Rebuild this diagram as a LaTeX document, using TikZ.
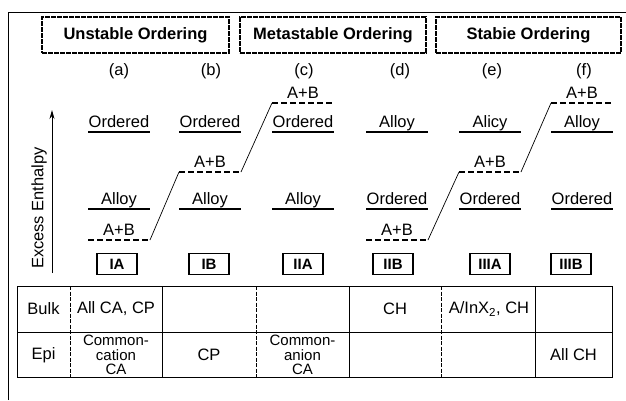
\documentclass[tikz,border=0pt]{standalone}
\usepackage{fontspec}
\setmainfont{Liberation Sans}
\usetikzlibrary{arrows.meta}
% level: #1 name, #2 x centre, #3 y of line, #4 text, #5 line style
\newcommand{\lev}[5]{%
  \coordinate (#1l) at ({#2-31},#3);
  \coordinate (#1r) at ({#2+31},#3);
  \draw[#5] (#1l) -- (#1r);
  \node[lvltext] (#1t) at (#2,{#3-5}) {#4};}
\begin{document}
\begin{tikzpicture}[x=1pt,y=-1pt,
  hdr/.style={draw, line width=1.4pt, dash pattern=on 5pt off 1pt, minimum height=36pt, inner sep=0pt, font=\fontsize{16.5}{18}\selectfont\bfseries},
  lbl/.style={font=\fontsize{16.5}{18}\selectfont, inner sep=0pt},
  lvltext/.style={font=\fontsize{16.5}{18}\selectfont, inner sep=0pt, anchor=base},
  solidlvl/.style={line width=1.6pt},
  dashlvl/.style={line width=1.6pt, dash pattern=on 6pt off 3pt},
  slant/.style={line width=0.7pt},
  phase/.style={draw, line width=1.7pt, minimum width=40pt, minimum height=21pt, inner sep=0pt, font=\fontsize{15}{16}\selectfont\bfseries},
  cell/.style={font=\fontsize{16.5}{18}\selectfont, inner sep=0pt, align=center},
  cellsm/.style={font=\fontsize{15}{14.2}\selectfont, inner sep=0pt, align=center},
  tline/.style={line width=0.9pt},
  tdash/.style={line width=0.9pt, dash pattern=on 4pt off 1.5pt},
]
\useasboundingbox (0,0) rectangle (626,400);
% frame
\coordinate (f0) at (8,400);
\coordinate (f1) at (8,12);
\coordinate (f2) at (626,12);
\draw[line width=0.8pt] (f0) -- (f1) -- (f2);
% headers
\node[hdr, minimum width=187pt] (h1) at (135.5,35) {Unstable Ordering};
\node[hdr, minimum width=186pt] (h2) at (333,35) {Metastable Ordering};
\node[hdr, minimum width=185pt] (h3) at (528.5,35) {Stabie Ordering};
% column labels
\node[lbl] (la) at (119,71) {(a)};
\node[lbl] (lb) at (211,71) {(b)};
\node[lbl] (lc) at (304,71) {(c)};
\node[lbl] (ld) at (400,71) {(d)};
\node[lbl] (le) at (492,71) {(e)};
\node[lbl] (lf) at (584,71) {(f)};
% axis
\coordinate (ax0) at (52,273);
\coordinate (ax1) at (52,110);
\draw[line width=0.8pt, -{Stealth[length=9pt,width=5pt]}] (ax0) -- (ax1);
\node[lbl, rotate=90] (ylab) at (39,208) {Excess Enthalpy};
% levels
\lev{a1}{119}{132}{Ordered}{solidlvl}
\lev{a2}{119}{209}{Alloy}{solidlvl}
\lev{a3}{119}{240}{A+B}{dashlvl}
\lev{b1}{210}{132}{Ordered}{solidlvl}
\lev{b2}{210}{172}{A+B}{dashlvl}
\lev{b3}{210}{209}{Alloy}{solidlvl}
\lev{c1}{303}{103}{A+B}{dashlvl}
\lev{c2}{303}{132}{Ordered}{solidlvl}
\lev{c3}{303}{209}{Alloy}{solidlvl}
\lev{d1}{397}{132}{Alloy}{solidlvl}
\lev{d2}{397}{209}{Ordered}{solidlvl}
\lev{d3}{397}{240}{A+B}{dashlvl}
\lev{e1}{490}{132}{Alicy}{solidlvl}
\lev{e2}{490}{172}{A+B}{dashlvl}
\lev{e3}{490}{209}{Ordered}{solidlvl}
\lev{f1}{582}{103}{A+B}{dashlvl}
\lev{f2}{582}{132}{Alloy}{solidlvl}
\lev{f3}{582}{209}{Ordered}{solidlvl}
% connecting slants
\draw[slant] (a3r) -- (b2l);
\draw[slant] (b2r) -- (c1l);
\draw[slant] (d3r) -- (e2l);
\draw[slant] (e2r) -- (f1l);
% phase boxes
\node[phase] (pIA) at (117,264) {IA};
\node[phase] (pIB) at (209,264) {IB};
\node[phase] (pIIA) at (303,264) {IIA};
\node[phase] (pIIB) at (393,264) {IIB};
\node[phase] (pIIIA) at (490,264) {IIIA};
\node[phase] (pIIIB) at (571,264) {IIIB};
% table
\draw[tline] (17,286) rectangle (612,377);
\draw[tline] (17,332) -- (612,332);
\draw[tdash] (70,286) -- (70,377);
\draw[tline] (162,286) -- (162,377);
\draw[tdash] (256,286) -- (256,377);
\draw[tline] (349,286) -- (349,377);
\draw[tdash] (441,286) -- (441,377);
\draw[tline] (535,286) -- (535,377);
\node[cell] (tb) at (43.5,309) {Bulk};
\node[cell] (tb1) at (116,309) {All CA, CP};
\node[cell] (tb4) at (395,309) {CH};
\node[cell] (tb5) at (489,309) {A/InX\textsubscript{2}, CH};
\node[cell] (te) at (43.5,355) {Epi};
\node[cellsm] (te1) at (116,355) {Common-\\cation\\CA};
\node[cell] (te2) at (209,355) {CP};
\node[cellsm] (te3) at (302.5,355) {Common-\\anion\\CA};
\node[cell] (te6) at (573.5,355) {All CH};
\end{tikzpicture}
\end{document}
